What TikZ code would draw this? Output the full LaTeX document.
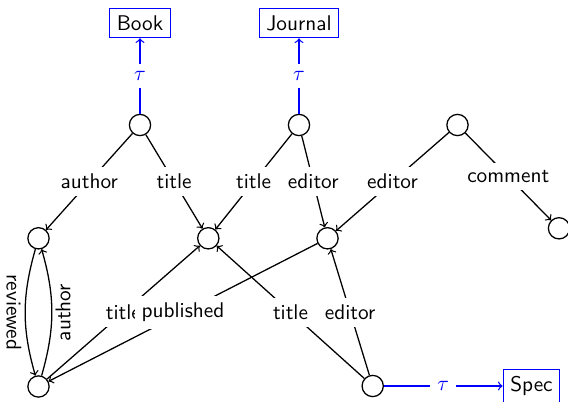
\documentclass[tikz,border=0pt]{standalone}
\begin{document}
\begin{tikzpicture}[x=0.47pt,y=-0.47pt,font=\sffamily,>=to,semithick,
  st/.style={circle,draw,minimum size=10pt,inner sep=0pt},
  typ/.style={draw=blue,rectangle,text=black},
  lbl/.style={fill=white},
  tlbl/.style={fill=white,text=blue},
  looplbl/.style={midway,sloped,below,inner sep=1.5pt}]
\useasboundingbox (0,0) rectangle (568,402);
% type boxes
\node[typ] (book) at (140,23) {Book};
\node[typ] (journal) at (299,23) {Journal};
\node[typ] (spec) at (531.5,386) {Spec};
% roots
\node[st] (r1) at (140,125) {};
\node[st] (r2) at (299,125) {};
\node[st] (r3) at (457.5,125) {};
% middle
\node[st] (a) at (38.5,238.3) {};
\node[st] (t) at (208.3,238.3) {};
\node[st] (e) at (327.5,238.3) {};
\node[st] (c) at (559,228.3) {};
% bottom
\node[st] (b1) at (38.5,386.5) {};
\node[st] (b2) at (372.7,386) {};
% typing edges
\draw[blue,->] (r1) -- node[tlbl] {$\tau$} (book);
\draw[blue,->] (r2) -- node[tlbl] {$\tau$} (journal);
\draw[blue,->] (b2) -- node[tlbl] {$\tau$} (spec);
% top edges
\draw[->] (r1) -- node[lbl] {author} (a);
\draw[->] (r1) -- node[lbl] {title} (t);
\draw[->] (r2) -- node[lbl] {title} (t);
\draw[->] (r2) -- node[lbl] {editor} (e);
\draw[->] (r3) -- node[lbl] {editor} (e);
\draw[->] (r3) -- node[lbl] {comment} (c);
% loop between a and b1
\draw[->] (a) to[bend right=16] node[looplbl] {reviewed} (b1);
\draw[->] (b1) to[bend right=16] node[looplbl] {author} (a);
% bottom edges
\draw[->] (b1) -- node[lbl] {title} (t);
\draw[->] (e) -- node[lbl] {published} (b1);
\draw[->] (b2) -- node[lbl] {title} (t);
\draw[->] (b2) -- node[lbl] {editor} (e);
\end{tikzpicture}
\end{document}
